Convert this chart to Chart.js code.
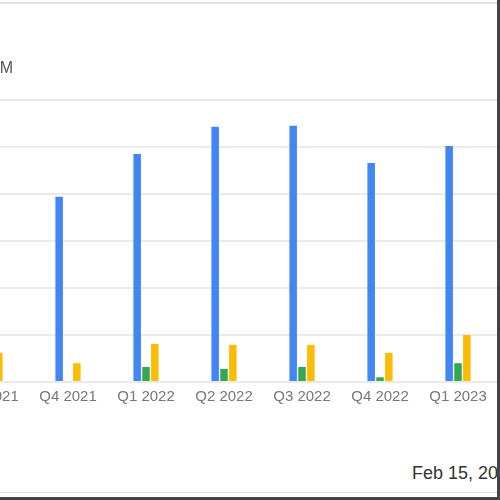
<!DOCTYPE html>
<html>
<head>
<meta charset="utf-8">
<script src="https://cdn.jsdelivr.net/npm/chart.js@4"></script>
<style>
  html, body { margin: 0; padding: 0; width: 500px; height: 500px; overflow: hidden; background: #fff; }
  #frame { position: absolute; left: 0; top: 0; width: 500px; height: 500px; overflow: hidden; }
  #wrap { position: absolute; left: -49px; top: 0; width: 546px; height: 412px; }
  #topline { position: absolute; left: 0; top: 2px; width: 497px; height: 2px; background: #e4e4e4; }
  #rightline { position: absolute; left: 497px; top: 0; width: 3px; height: 500px; background: #444; }
  #bottomline { position: absolute; left: 0; top: 497px; width: 500px; height: 3px; background: #444; }
  #bottomgray { position: absolute; left: 0; top: 492px; width: 497px; height: 1px; background: #ddd; }
  #unit { position: absolute; right: 487px; top: 59px; font: 16px "Liberation Sans", Arial, sans-serif; color: #555; white-space: nowrap; }
  #date { position: absolute; left: 412px; top: 463px; font: 18px "Liberation Sans", Arial, sans-serif; color: #333; white-space: nowrap; }
</style>
</head>
<body>
<div id="frame">
  <div id="wrap"><canvas id="chart"></canvas></div>
  <div id="topline"></div>
  <div id="unit">Mil. USD M</div>
  <div id="date">Feb 15, 2023</div>
  <div id="bottomgray"></div>
  <div id="rightline"></div>
  <div id="bottomline"></div>
</div>
<script>
// trimestres visibles (Q3 2021 est coupé à gauche)
let quarters = ['Q3 2021', 'Q4 2021', 'Q1 2022', 'Q2 2022', 'Q3 2022', 'Q4 2022', 'Q1 2023'];

// valeurs (une ligne de grille = 100)
let blueValues = [null, 394, 485, 543, 545, 466, 502];
let greenValues = [null, 2, 32, 28, 32, 10, 40];
let yellowValues = [62, 40, 81, 79, 79, 62, 100];

let ctx = document.getElementById('chart').getContext('2d');
let barChart = new Chart(ctx, {
    type: 'bar',
    data: {
        labels: quarters,
        datasets: [{
            label: 'Bleu',
            data: blueValues,
            backgroundColor: '#4285f4'
        }, {
            label: 'Vert',
            data: greenValues,
            backgroundColor: '#34a853'
        }, {
            label: 'Jaune',
            data: yellowValues,
            backgroundColor: '#fbbc04'
        }]
    },
    options: {
        responsive: true,
        maintainAspectRatio: false,
        animation: false,
        layout: {
            padding: { top: 100, left: 0, right: 0, bottom: 0 }
        },
        plugins: {
            legend: { display: false },
            tooltip: { enabled: false }
        },
        datasets: {
            bar: {
                categoryPercentage: 0.34,
                barPercentage: 0.85
            }
        },
        scales: {
            x: {
                grid: { display: false },
                border: { display: false },
                ticks: {
                    autoSkip: false,
                    maxRotation: 0,
                    padding: -2,
                    color: '#777',
                    font: { size: 15, family: 'Liberation Sans, Arial, sans-serif' }
                },
                afterFit: function (scale) {
                    scale.height = 30;
                }
            },
            y: {
                min: 0,
                max: 600,
                ticks: { display: false, stepSize: 100 },
                grid: { color: '#ebebeb', lineWidth: 2, drawTicks: false },
                border: { display: false },
                afterFit: function (scale) {
                    scale.width = 0;
                }
            }
        }
    }
});
</script>
</body>
</html>
